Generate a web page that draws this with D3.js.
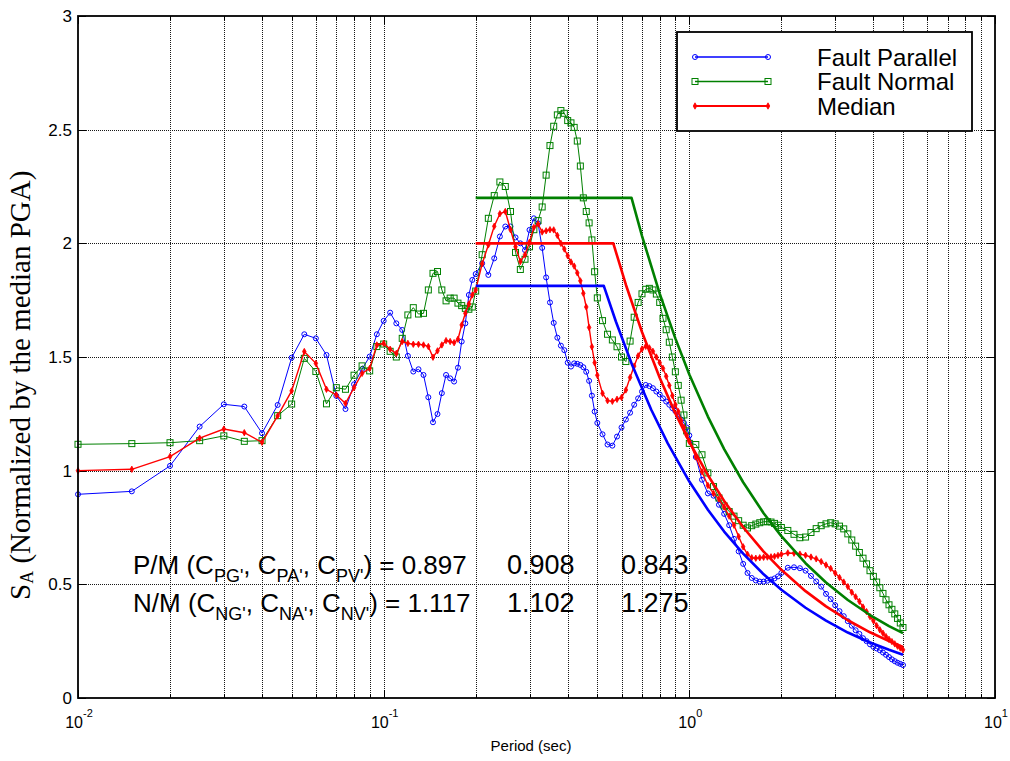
<!DOCTYPE html>
<html>
<head>
<meta charset="utf-8">
<script src="https://cdn.jsdelivr.net/npm/d3@7"></script>
<style>
  body { margin: 0; background: #fff; }
  svg text { font-family: "Liberation Sans", Arial, sans-serif; fill: #000; }
</style>
</head>
<body>
<svg id="chart" width="1010" height="761"></svg>
<script>
// Spectral periods (sec)
const periods = [
  0.01, 0.015, 0.02, 0.025, 0.03, 0.035, 0.04, 0.045, 0.05, 0.055, 0.06, 0.065, 0.07, 0.075, 0.08, 0.085, 0.09, 0.095,
  0.1, 0.105, 0.11, 0.115, 0.12, 0.125, 0.13, 0.135, 0.14, 0.145, 0.15, 0.155, 0.16, 0.165, 0.17, 0.175, 0.18, 0.185, 0.19, 0.195, 0.2,
  0.21, 0.22, 0.23, 0.24, 0.25, 0.26, 0.27, 0.28, 0.29, 0.3, 0.31, 0.32, 0.33, 0.34, 0.35, 0.36, 0.37, 0.38, 0.39, 0.4,
  0.41, 0.42, 0.43, 0.44, 0.45, 0.46, 0.47, 0.48, 0.49, 0.5,
  0.52, 0.54, 0.56, 0.58, 0.6, 0.62, 0.64, 0.66, 0.68, 0.7, 0.72, 0.74, 0.76, 0.78, 0.8, 0.82, 0.84, 0.86, 0.88, 0.9, 0.92, 0.94, 0.96, 0.98, 1.0,
  1.05, 1.1, 1.15, 1.2, 1.25, 1.3, 1.35, 1.4, 1.45, 1.5, 1.55, 1.6, 1.65, 1.7, 1.75, 1.8, 1.85, 1.9, 1.95, 2.0,
  2.1, 2.2, 2.3, 2.4, 2.5, 2.6, 2.7, 2.8, 2.9, 3.0, 3.1, 3.2, 3.3, 3.4, 3.5, 3.6, 3.7, 3.8, 3.9, 4.0,
  4.1, 4.2, 4.3, 4.4, 4.5, 4.6, 4.7, 4.8, 4.9, 5.0
];

// Normalized spectral accelerations
const faultParallel = [
  0.896, 0.909, 1.021, 1.194, 1.292, 1.282, 1.165, 1.289, 1.497, 1.600, 1.582, 1.509, 1.329, 1.271, 1.380, 1.447, 1.502, 1.600,
  1.659, 1.695, 1.648, 1.619, 1.505, 1.436, 1.446, 1.421, 1.323, 1.213, 1.249, 1.341, 1.421, 1.406, 1.392, 1.453, 1.568, 1.648, 1.773, 1.839, 1.865,
  1.912, 1.861, 1.934, 2.030, 2.074, 2.074, 2.026, 2.000, 1.970, 2.059, 2.110, 2.088, 1.980, 1.850, 1.740, 1.650, 1.585, 1.550, 1.530, 1.475,
  1.458, 1.472, 1.470, 1.465, 1.455, 1.435, 1.395, 1.330, 1.260, 1.210,
  1.160, 1.115, 1.110, 1.150, 1.190, 1.225, 1.255, 1.290, 1.318, 1.348, 1.377, 1.372, 1.363, 1.348, 1.335, 1.318, 1.304, 1.290, 1.275, 1.262, 1.240, 1.225, 1.210, 1.190, 1.155,
  1.060, 0.960, 0.900, 0.890, 0.850, 0.810, 0.760, 0.700, 0.645, 0.590, 0.550, 0.528, 0.517, 0.512, 0.512, 0.516, 0.521, 0.526, 0.535, 0.550,
  0.573, 0.575, 0.571, 0.560, 0.537, 0.513, 0.490, 0.458, 0.435, 0.408, 0.382, 0.360, 0.338, 0.318, 0.298, 0.282, 0.263, 0.250, 0.236, 0.225,
  0.218, 0.210, 0.200, 0.190, 0.180, 0.170, 0.162, 0.155, 0.150, 0.145
];

const faultNormal = [
  1.116, 1.119, 1.123, 1.132, 1.153, 1.129, 1.132, 1.242, 1.293, 1.494, 1.436, 1.294, 1.365, 1.358, 1.420, 1.461, 1.439, 1.546,
  1.557, 1.525, 1.500, 1.582, 1.685, 1.717, 1.689, 1.692, 1.795, 1.868, 1.876, 1.795, 1.747, 1.759, 1.759, 1.737, 1.726, 1.714, 1.710, 1.720, 1.790,
  1.950, 2.110, 2.210, 2.270, 2.250, 2.140, 1.960, 1.885, 1.930, 1.985, 2.060, 2.100, 2.160, 2.300, 2.430, 2.515, 2.565, 2.584, 2.572, 2.540,
  2.530, 2.510, 2.450, 2.340, 2.200, 2.140, 2.090, 2.015, 1.875, 1.760,
  1.660, 1.600, 1.575, 1.545, 1.500, 1.480, 1.570, 1.675, 1.740, 1.778, 1.798, 1.802, 1.795, 1.777, 1.740, 1.670, 1.620, 1.565, 1.500, 1.435, 1.375, 1.310, 1.245, 1.175, 1.120,
  1.115, 1.070, 0.990, 0.930, 0.880, 0.845, 0.820, 0.800, 0.780, 0.760, 0.748, 0.758, 0.765, 0.771, 0.775, 0.776, 0.774, 0.768, 0.760, 0.750,
  0.737, 0.720, 0.705, 0.708, 0.728, 0.745, 0.758, 0.766, 0.771, 0.766, 0.756, 0.744, 0.722, 0.695, 0.668, 0.640, 0.615, 0.590, 0.560, 0.535,
  0.510, 0.485, 0.460, 0.432, 0.410, 0.390, 0.370, 0.350, 0.330, 0.310
];

const median = [
  1.000, 1.006, 1.062, 1.143, 1.183, 1.167, 1.125, 1.241, 1.351, 1.524, 1.472, 1.358, 1.333, 1.296, 1.365, 1.428, 1.450, 1.553,
  1.560, 1.534, 1.516, 1.568, 1.560, 1.556, 1.556, 1.553, 1.546, 1.499, 1.527, 1.553, 1.572, 1.568, 1.563, 1.578, 1.641, 1.692, 1.733, 1.773, 1.795,
  1.910, 1.993, 2.075, 2.130, 2.140, 2.060, 1.985, 1.920, 1.950, 2.005, 2.070, 2.085, 2.050, 2.055, 2.060, 2.059, 2.035, 2.000, 1.975, 1.945,
  1.918, 1.900, 1.870, 1.835, 1.780, 1.720, 1.630, 1.545, 1.475, 1.420,
  1.340, 1.308, 1.305, 1.314, 1.322, 1.355, 1.410, 1.460, 1.505, 1.535, 1.547, 1.540, 1.525, 1.500, 1.475, 1.450, 1.415, 1.375, 1.330, 1.290, 1.260, 1.220, 1.190, 1.155, 1.128,
  1.060, 0.995, 0.935, 0.900, 0.875, 0.840, 0.800, 0.760, 0.710, 0.665, 0.632, 0.617, 0.615, 0.617, 0.619, 0.620, 0.621, 0.623, 0.627, 0.632,
  0.638, 0.637, 0.633, 0.628, 0.620, 0.612, 0.600, 0.585, 0.570, 0.550, 0.530, 0.510, 0.490, 0.465, 0.445, 0.425, 0.400, 0.380, 0.358, 0.340,
  0.318, 0.300, 0.285, 0.270, 0.258, 0.248, 0.238, 0.228, 0.220, 0.212
];

// Smoothed design spectra (flat plateau, then constant-velocity branch)
const parallelDesignT = [0.2, 0.525, 0.575, 0.65, 0.75, 0.85, 1.0, 1.15, 1.3, 1.5, 1.75, 2.0, 2.4, 2.8, 3.3, 3.9, 4.5, 5.0];
const parallelDesign  = [1.813, 1.813, 1.656, 1.465, 1.269, 1.120, 0.952, 0.828, 0.732, 0.635, 0.544, 0.476, 0.397, 0.340, 0.288, 0.244, 0.212, 0.190];
const normalDesignT   = [0.2, 0.647, 0.7, 0.8, 0.9, 1.0, 1.15, 1.3, 1.5, 1.75, 2.0, 2.4, 2.8, 3.3, 3.9, 4.5, 5.0];
const normalDesign    = [2.2, 2.2, 2.033, 1.779, 1.582, 1.423, 1.238, 1.095, 0.949, 0.813, 0.712, 0.593, 0.508, 0.431, 0.365, 0.316, 0.285];
const medianDesignT   = [0.2, 0.564, 0.62, 0.7, 0.8, 0.9, 1.0, 1.15, 1.3, 1.5, 1.75, 2.0, 2.4, 2.8, 3.3, 3.9, 4.5, 5.0];
const medianDesign    = [2.0, 2.0, 1.818, 1.610, 1.409, 1.252, 1.127, 0.980, 0.867, 0.751, 0.644, 0.564, 0.470, 0.403, 0.342, 0.289, 0.250, 0.225];

// Axis ticks and text
const yTicks = [0, 0.5, 1, 1.5, 2, 2.5, 3];
const yTickLabels = ["0", "0.5", "1", "1.5", "2", "2.5", "3"];
const xDecades = [0.01, 0.1, 1, 10];
const xDecadeExponents = ["-2", "-1", "0", "1"];
const legendLabels = ["Fault Parallel", "Fault Normal", "Median"];
const ratioRows = [
  { lead: "P/M (C", subs: ["PG'", "PA'", "PV'"], values: ["0.897", "0.908", "0.843"] },
  { lead: "N/M (C", subs: ["NG'", "NA'", "NV'"], values: ["1.117", "1.102", "1.275"] }
];

const box = { left: 78, right: 995, top: 16, bottom: 698 };
const x = d3.scaleLog().domain([0.01, 10]).range([box.left, box.right]);
const y = d3.scaleLinear().domain([0, 3]).range([box.bottom, box.top]);

const svg = d3.select("#chart");
svg.append("rect").attr("width", 1010).attr("height", 761).attr("fill", "#fff");

// Grid
const gridTicks = x.ticks().filter(t => t > 0.0100001 && t < 9.9999);
const grid = svg.append("g").attr("stroke", "#000").attr("stroke-width", 1)
  .attr("stroke-dasharray", "1,1").attr("shape-rendering", "crispEdges").attr("opacity", 0.9);
grid.selectAll("line.v").data(gridTicks).join("line").attr("class", "v")
  .attr("x1", d => Math.round(x(d)) + 0.5).attr("x2", d => Math.round(x(d)) + 0.5)
  .attr("y1", box.top).attr("y2", box.bottom);
grid.selectAll("line.h").data(yTicks.filter(t => t > 0 && t < 3)).join("line").attr("class", "h")
  .attr("y1", d => Math.round(y(d)) + 0.5).attr("y2", d => Math.round(y(d)) + 0.5)
  .attr("x1", box.left).attr("x2", box.right);

// Ticks (inside the box)
const tickG = svg.append("g").attr("stroke", "#000").attr("stroke-width", 1).attr("shape-rendering", "crispEdges");
const allX = x.ticks();
allX.forEach(t => {
  const major = xDecades.some(d => Math.abs(d - t) / d < 1e-6);
  const len = major ? 8 : 4;
  const px = Math.round(x(t)) + 0.5;
  tickG.append("line").attr("x1", px).attr("x2", px).attr("y1", box.bottom).attr("y2", box.bottom - len);
  tickG.append("line").attr("x1", px).attr("x2", px).attr("y1", box.top).attr("y2", box.top + len);
});
yTicks.forEach(t => {
  const py = Math.round(y(t)) + 0.5;
  tickG.append("line").attr("x1", box.left).attr("x2", box.left + 8).attr("y1", py).attr("y2", py);
  tickG.append("line").attr("x1", box.right).attr("x2", box.right - 8).attr("y1", py).attr("y2", py);
});

// Tick labels
svg.append("g").selectAll("text").data(yTicks).join("text")
  .attr("x", box.left - 6).attr("y", d => y(d)).attr("dy", "0.36em")
  .attr("text-anchor", "end").attr("font-size", 17)
  .text((d, i) => yTickLabels[i]);

const xl = svg.append("g").selectAll("text").data(xDecades).join("text")
  .attr("x", d => x(d) + 1).attr("y", 728).attr("text-anchor", "middle").attr("font-size", 16);
xl.append("tspan").text("10");
xl.append("tspan").attr("dy", -11).attr("font-size", 11).text((d, i) => xDecadeExponents[i]);

// Axis titles
svg.append("text").attr("x", 531).attr("y", 751).attr("text-anchor", "middle")
  .attr("font-size", 15).text("Period (sec)");

const yTitle = svg.append("text")
  .attr("transform", "translate(30,600) rotate(-90)")
  .attr("text-anchor", "start")
  .style("font-family", "'Liberation Serif', 'Times New Roman', serif")
  .attr("font-size", 29);
yTitle.append("tspan").text("S");
yTitle.append("tspan").attr("font-size", 18).attr("dy", 3).text("A");
yTitle.append("tspan").attr("dy", -3).text(" (Normalized by the median PGA)");

// Data series
const series = [
  { name: legendLabels[0], values: faultParallel, color: "#0000ff", marker: "circle", width: 1 },
  { name: legendLabels[1], values: faultNormal, color: "#008000", marker: "square", width: 1 },
  { name: legendLabels[2], values: median, color: "#ff0000", marker: "plus", width: 1.4 }
];

function drawMarker(g, kind, color, cx, cy) {
  if (kind === "circle") {
    g.append("circle").attr("cx", cx).attr("cy", cy).attr("r", 2.5)
      .attr("fill", "none").attr("stroke", color).attr("stroke-width", 1);
  } else if (kind === "square") {
    g.append("rect").attr("x", cx - 3).attr("y", cy - 3).attr("width", 6).attr("height", 6)
      .attr("fill", "none").attr("stroke", color).attr("stroke-width", 1);
  } else {
    g.append("path").attr("d", `M${cx},${cy - 3.2}L${cx + 1.8},${cy}L${cx},${cy + 3.2}L${cx - 1.8},${cy}Z`)
      .attr("fill", color).attr("stroke", color).attr("stroke-width", 0.8);
  }
}

const lineGen = d3.line().x(d => x(d[0])).y(d => y(d[1]));

series.forEach(s => {
  const pts = periods.map((p, i) => [p, s.values[i]]);
  const g = svg.append("g");
  g.append("path").attr("d", lineGen(pts)).attr("fill", "none")
    .attr("stroke", s.color).attr("stroke-width", s.width);
  pts.forEach(p => drawMarker(g, s.marker, s.color, x(p[0]), y(p[1])));
});

// Design spectra
const designs = [
  { t: parallelDesignT, v: parallelDesign, color: "#0000ff" },
  { t: normalDesignT, v: normalDesign, color: "#008000" },
  { t: medianDesignT, v: medianDesign, color: "#ff0000" }
];
designs.forEach(d => {
  svg.append("path").attr("d", lineGen(d.t.map((t, i) => [t, d.v[i]])))
    .attr("fill", "none").attr("stroke", d.color).attr("stroke-width", 2.6)
    .attr("stroke-linejoin", "round");
});

// Ratio annotations
ratioRows.forEach((row, r) => {
  const baseY = 574 + r * 38;
  const t = svg.append("text").attr("x", 133).attr("y", baseY).attr("font-size", 26);
  t.append("tspan").text(row.lead);
  row.subs.forEach((s, i) => {
    t.append("tspan").attr("font-size", 18).attr("dy", 8).text(s);
    t.append("tspan").attr("dy", -8).text(i < row.subs.length - 1 ? ", C" : ") = " + row.values[0]);
  });
  svg.append("text").attr("x", 507).attr("y", baseY).attr("font-size", 27).text(row.values[1]);
  svg.append("text").attr("x", 621).attr("y", baseY).attr("font-size", 27).text(row.values[2]);
});

// Axes box
svg.append("rect").attr("x", box.left).attr("y", box.top)
  .attr("width", box.right - box.left).attr("height", box.bottom - box.top)
  .attr("fill", "none").attr("stroke", "#000").attr("stroke-width", 1.8);

// Legend
const lg = svg.append("g");
lg.append("rect").attr("x", 677).attr("y", 32).attr("width", 295).attr("height", 99)
  .attr("fill", "#fff").attr("stroke", "#000").attr("stroke-width", 1.8);
series.forEach((s, i) => {
  const ly = 57 + i * 24.5;
  lg.append("line").attr("x1", 695).attr("x2", 768).attr("y1", ly).attr("y2", ly)
    .attr("stroke", s.color).attr("stroke-width", s.width + 0.5);
  drawMarker(lg, s.marker, s.color, 695, ly);
  drawMarker(lg, s.marker, s.color, 768, ly);
  lg.append("text").attr("x", 817).attr("y", ly + 8.5).attr("font-size", 24).text(s.name);
});
</script>
</body>
</html>
